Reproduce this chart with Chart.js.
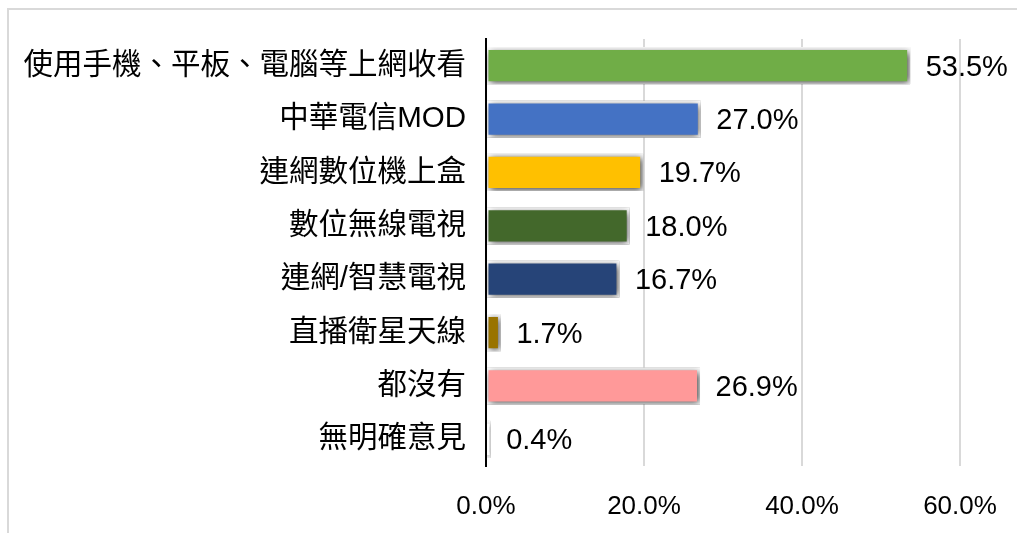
<!DOCTYPE html>
<html>
<head>
<meta charset="utf-8">
<script src="https://cdn.jsdelivr.net/npm/chart.js@4.4.0/dist/chart.umd.min.js"></script>
<style>
  html, body { margin: 0; padding: 0; background: #fff; }
  #wrap { position: relative; width: 1017px; height: 533px; overflow: hidden; }
  #frame { position: absolute; left: 7px; top: 8px; width: 1100px; height: 600px; border: 2px solid #d9d9d9; }
  canvas { position: absolute; left: 0; top: 0; }
</style>
</head>
<body>
<div id="wrap">
  <div id="frame"></div>
  <canvas id="chart" width="1017" height="533"></canvas>
</div>
<script>
// data
const labels = ["使用手機、平板、電腦等上網收看", "中華電信MOD", "連網數位機上盒", "數位無線電視", "連網/智慧電視", "直播衛星天線", "都沒有", "無明確意見"];
const values = [53.5, 27.0, 19.7, 18.0, 16.7, 1.7, 26.9, 0.4];
const colors = ["#70AD47", "#4472C4", "#FFC000", "#43682B", "#264478", "#997300", "#FF9999", "#FFFFFF"];
const xTicks = [0, 20, 40, 60];

const FONT = '"Liberation Sans", Arial, "Noto Sans CJK TC", sans-serif';
Chart.defaults.font.family = FONT;
Chart.defaults.color = "#000";

// soft shadow under bars, like the office chart
const barShadow = {
  id: "barShadow",
  beforeDatasetDraw(chart){
    const ctx = chart.ctx;
    ctx.save();
    ctx.shadowColor = "rgba(0,0,0,0.75)";
    ctx.shadowBlur = 7;
    ctx.shadowOffsetX = 1.5;
    ctx.shadowOffsetY = 1.5;
  },
  afterDatasetDraw(chart){ chart.ctx.restore(); }
};

// value labels at bar ends
const valueLabels = {
  id: "valueLabels",
  afterDatasetsDraw(chart){
    const ctx = chart.ctx;
    const meta = chart.getDatasetMeta(0);
    ctx.save();
    ctx.font = "29px " + FONT;
    ctx.fillStyle = "#000";
    ctx.textAlign = "left";
    ctx.textBaseline = "middle";
    meta.data.forEach((bar, i)=>{
      ctx.fillText(values[i].toFixed(1) + "%", bar.x + 17, bar.y + 2);
    });
    ctx.restore();
  }
};

new Chart(document.getElementById("chart"), {
  type: "bar",
  data: {
    labels,
    datasets: [{
      data: values,
      backgroundColor: colors,
      borderColor: "#FFFFFF",
      borderWidth: 3,
      borderSkipped: false,
      inflateAmount: 1.5,
      barPercentage: 0.64,
      categoryPercentage: 1.0
    }]
  },
  options: {
    indexAxis: "y",
    responsive: false,
    animation: false,
    events: [],
    layout: { padding: { top: 39, right: 57, left: 0, bottom: 0 } },
    plugins: { legend: { display: false }, tooltip: { enabled: false } },
    scales: {
      x: {
        min: 0, max: 60,
        afterBuildTicks: s => { s.ticks = xTicks.map(v => ({ value: v })); },
        afterFit: s => { s.height = 67; s.paddingLeft = 0; s.paddingRight = 0; },
        ticks: {
          callback: v => v.toFixed(1) + "%",
          font: { size: 26 },
          padding: 25,
          maxRotation: 0
        },
        grid: {
          color: c => c.tick && c.tick.value === 0 ? "rgba(0,0,0,0)" : "#d9d9d9",
          lineWidth: 2,
          drawTicks: false
        },
        border: { display: false }
      },
      y: {
        afterFit: s => { s.width = 486; },
        ticks: { font: { size: 29.5 }, padding: 20 },
        grid: { display: false, drawTicks: false },
        border: { display: true, color: "#000", width: 2, z: 1 }
      }
    }
  },
  plugins: [barShadow, valueLabels]
});
</script>
</body>
</html>
